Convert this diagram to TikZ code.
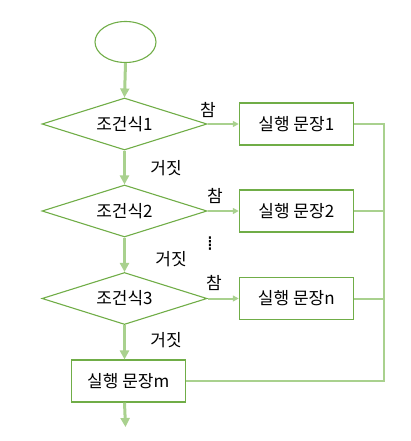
\documentclass[tikz,border=0pt]{standalone}
\usepackage{fontspec}
\newfontfamily\kr{Noto Sans CJK KR}
\newfontfamily\dv{DejaVu Sans}
\usetikzlibrary{shapes.geometric,arrows.meta}
\definecolor{ln}{HTML}{A9D18E}
\definecolor{ol}{HTML}{70AD47}
\begin{document}
\begin{tikzpicture}[x=1pt,y=-1pt,
  every node/.style={font=\kr\fontsize{17}{20}\selectfont, inner sep=0},
  cond/.style={diamond, draw=ol, line width=1.1pt, aspect=3.17, minimum width=165pt, minimum height=52pt},
  act/.style={rectangle, draw=ol, line width=1.1pt, minimum width=114pt, minimum height=42pt},
  startnode/.style={ellipse, draw=ol, line width=1.1pt, minimum width=61pt, minimum height=41pt},
  vflow/.style={draw=ln, line width=3pt, -{Triangle[length=9pt,width=9pt]}},
  hflow/.style={draw=ln, line width=2pt, -{Triangle[length=6pt,width=6pt]}},
  joinline/.style={draw=ln, line width=2pt}]
\useasboundingbox (0,0) rectangle (410,441);
\node[startnode] (st) at (125.5,42) {};
\node[cond] (d1) at (124.5,124) {조건식1};
\node[cond] (d2) at (124.5,211) {조건식2};
\node[cond] (d3) at (124.5,298.5) {조건식3};
\node[act] (b1) at (296.3,124) {실행 문장1};
\node[act] (b2) at (296.3,211) {실행 문장2};
\node[act] (bn) at (296.3,298.5) {실행 문장n};
\node[act] (bm) at (128.3,381) {실행 문장m};
\coordinate (rt) at (383.5,124);
\coordinate (rb) at (383.5,381);
\coordinate (endpt) at (125.5,427);
% labels
\node (t1) at (208,110) {참};
\node (t2) at (215,196) {참};
\node (t3) at (214,283) {참};
\node (f1) at (166,168) {거짓};
\node (f2) at (171,259) {거짓};
\node (f3) at (166,340) {거짓};
\node[font=\dv\fontsize{20}{22}\selectfont] (dots) at (210,244) {⁞};
% flows
\draw[vflow] (st.south) -- (d1.north);
\draw[vflow] (d1.south) -- (d2.north);
\draw[vflow] (d2.south) -- (d3.north);
\draw[vflow] (d3.south) -- (d3.south |- bm.north);
\draw[vflow] (bm.south -| d3.south) -- (endpt);
\draw[hflow] (d1.east) -- (b1.west);
\draw[hflow] (d2.east) -- (b2.west);
\draw[hflow] (d3.east) -- (bn.west);
\draw[joinline] (b1.east) -- (rt) -- (rb) -- (bm.east);
\draw[joinline] (b2.east) -- (b2.east -| rt);
\draw[joinline] (bn.east) -- (bn.east -| rt);
\end{tikzpicture}
\end{document}
